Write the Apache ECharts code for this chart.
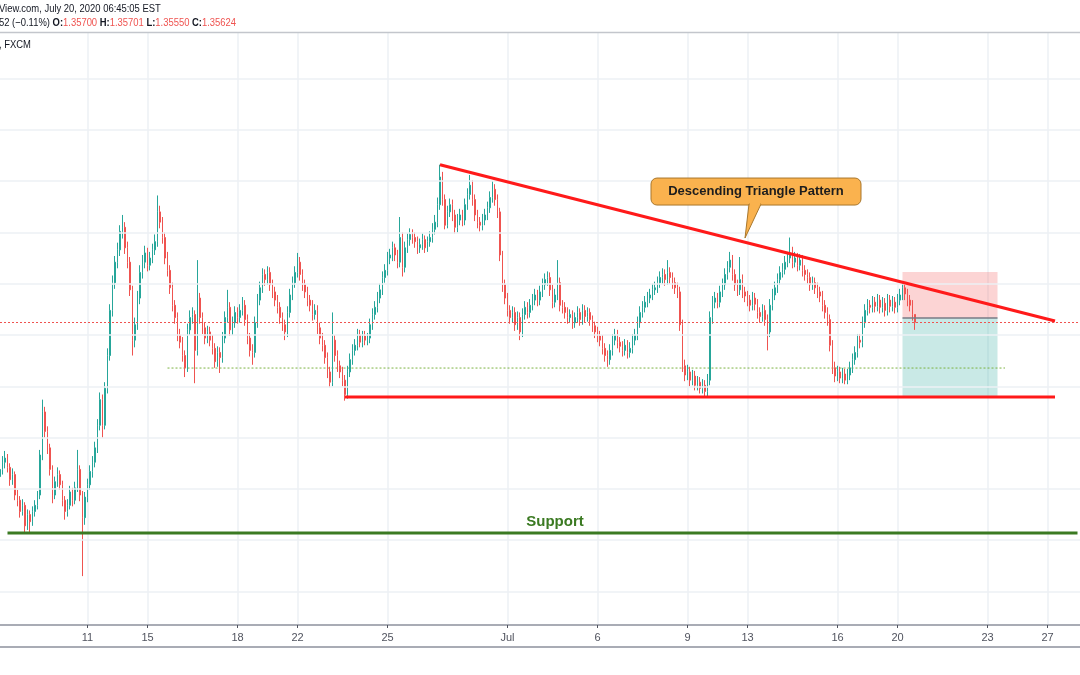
<!DOCTYPE html>
<html><head><meta charset="utf-8">
<script src="https://cdn.jsdelivr.net/npm/echarts@6/dist/echarts.min.js"></script>
<style>html,body{margin:0;padding:0;background:#fff}#c{width:1080px;height:675px}</style>
</head><body><div id="c"></div>
<script>
// ---- 2-hour USD/CAD candles (FXCM), Jun 8 – Jul 20, 2020 ----
const opens=[1.3412,1.3419,1.3426,1.3430,1.3421,1.3409,1.3414,1.3394,1.3389,1.3378,
1.3384,1.3364,1.3375,1.3368,1.3378,1.3384,1.3394,1.3433,1.3475,1.3456,
1.3440,1.3419,1.3394,1.3407,1.3414,1.3404,1.3389,1.3378,1.3384,1.3397,
1.3389,1.3401,1.3419,1.3394,1.3372,1.3392,1.3404,1.3417,1.3426,1.3440,
1.3462,1.3487,1.3462,1.3498,1.3530,1.3574,1.3601,1.3621,1.3633,1.3651,
1.3655,1.3635,1.3621,1.3594,1.3545,1.3560,1.3586,1.3611,1.3621,1.3630,
1.3618,1.3625,1.3633,1.3641,1.3670,1.3660,1.3645,1.3625,1.3613,1.3596,
1.3579,1.3567,1.3550,1.3543,1.3530,1.3518,1.3555,1.3567,1.3570,1.3535,
1.3586,1.3567,1.3557,1.3547,1.3553,1.3545,1.3537,1.3524,1.3533,1.3528,
1.3547,1.3567,1.3577,1.3555,1.3562,1.3572,1.3567,1.3574,1.3579,1.3565,
1.3547,1.3535,1.3533,1.3562,1.3584,1.3596,1.3609,1.3604,1.3611,1.3599,
1.3592,1.3584,1.3577,1.3567,1.3560,1.3553,1.3572,1.3589,1.3601,1.3611,
1.3621,1.3609,1.3599,1.3592,1.3584,1.3579,1.3570,1.3574,1.3557,1.3547,
1.3540,1.3528,1.3514,1.3504,1.3545,1.3530,1.3520,1.3514,1.3506,1.3492,
1.3514,1.3526,1.3535,1.3540,1.3550,1.3543,1.3549,1.3545,1.3547,1.3560,
1.3570,1.3577,1.3586,1.3594,1.3606,1.3613,1.3625,1.3628,1.3635,1.3628,
1.3621,1.3645,1.3616,1.3635,1.3643,1.3648,1.3645,1.3641,1.3635,1.3638,
1.3643,1.3635,1.3641,1.3645,1.3653,1.3660,1.3677,1.3704,1.3682,1.3657,
1.3670,1.3677,1.3667,1.3655,1.3662,1.3667,1.3662,1.3677,1.3687,1.3696,
1.3682,1.3667,1.3660,1.3657,1.3662,1.3667,1.3674,1.3684,1.3692,1.3682,
1.3670,1.3628,1.3599,1.3586,1.3574,1.3567,1.3572,1.3560,1.3567,1.3553,
1.3570,1.3577,1.3572,1.3579,1.3584,1.3589,1.3584,1.3592,1.3599,1.3604,
1.3606,1.3594,1.3582,1.3589,1.3601,1.3579,1.3577,1.3572,1.3567,1.3570,
1.3562,1.3567,1.3572,1.3565,1.3574,1.3568,1.3572,1.3565,1.3559,1.3553,
1.3549,1.3545,1.3537,1.3530,1.3526,1.3535,1.3545,1.3550,1.3543,1.3539,
1.3535,1.3540,1.3533,1.3537,1.3545,1.3550,1.3562,1.3572,1.3577,1.3582,
1.3586,1.3589,1.3594,1.3596,1.3601,1.3606,1.3609,1.3604,1.3611,1.3606,
1.3601,1.3596,1.3592,1.3560,1.3520,1.3511,1.3514,1.3506,1.3510,1.3501,
1.3504,1.3498,1.3501,1.3495,1.3506,1.3567,1.3582,1.3586,1.3582,1.3592,
1.3599,1.3609,1.3616,1.3623,1.3609,1.3599,1.3594,1.3604,1.3592,1.3588,
1.3584,1.3579,1.3586,1.3580,1.3572,1.3568,1.3574,1.3565,1.3553,1.3579,
1.3589,1.3596,1.3604,1.3611,1.3614,1.3621,1.3625,1.3630,1.3621,1.3625,
1.3618,1.3623,1.3613,1.3609,1.3606,1.3599,1.3601,1.3596,1.3592,1.3588,
1.3579,1.3572,1.3565,1.3540,1.3518,1.3510,1.3514,1.3508,1.3512,1.3506,
1.3511,1.3518,1.3526,1.3533,1.3545,1.3543,1.3562,1.3574,1.3579,1.3577,
1.3582,1.3578,1.3584,1.3577,1.3581,1.3574,1.3584,1.3578,1.3582,1.3577,
1.3584,1.3589,1.3596,1.3590,1.3584,1.3579,1.3570];
const highs=[1.3425,1.3432,1.3437,1.3434,1.3425,1.3420,1.3417,1.3399,1.3393,1.3390,
1.3387,1.3380,1.3379,1.3383,1.3389,1.3398,1.3438,1.3487,1.3480,1.3461,
1.3444,1.3423,1.3412,1.3421,1.3418,1.3408,1.3393,1.3390,1.3403,1.3401,
1.3407,1.3438,1.3423,1.3398,1.3397,1.3410,1.3423,1.3432,1.3446,1.3468,
1.3494,1.3492,1.3504,1.3537,1.3580,1.3608,1.3627,1.3640,1.3657,1.3667,
1.3660,1.3641,1.3626,1.3598,1.3567,1.3593,1.3618,1.3628,1.3637,1.3635,
1.3631,1.3639,1.3648,1.3686,1.3676,1.3665,1.3650,1.3631,1.3618,1.3601,
1.3584,1.3572,1.3556,1.3548,1.3535,1.3561,1.3574,1.3577,1.3574,1.3623,
1.3591,1.3572,1.3562,1.3559,1.3558,1.3550,1.3542,1.3539,1.3538,1.3553,
1.3573,1.3594,1.3582,1.3568,1.3578,1.3577,1.3580,1.3587,1.3584,1.3570,
1.3552,1.3541,1.3568,1.3590,1.3602,1.3615,1.3614,1.3617,1.3616,1.3604,
1.3597,1.3589,1.3582,1.3572,1.3565,1.3578,1.3595,1.3607,1.3617,1.3630,
1.3626,1.3614,1.3604,1.3597,1.3589,1.3584,1.3580,1.3579,1.3562,1.3552,
1.3545,1.3533,1.3519,1.3572,1.3550,1.3535,1.3525,1.3519,1.3511,1.3520,
1.3532,1.3541,1.3546,1.3556,1.3555,1.3554,1.3554,1.3552,1.3566,1.3576,
1.3583,1.3592,1.3600,1.3612,1.3619,1.3631,1.3634,1.3641,1.3639,1.3633,
1.3665,1.3650,1.3641,1.3649,1.3654,1.3653,1.3650,1.3646,1.3644,1.3649,
1.3647,1.3646,1.3651,1.3659,1.3667,1.3684,1.3716,1.3709,1.3687,1.3676,
1.3683,1.3682,1.3672,1.3668,1.3673,1.3672,1.3683,1.3693,1.3706,1.3701,
1.3687,1.3672,1.3665,1.3668,1.3673,1.3680,1.3690,1.3700,1.3697,1.3687,
1.3674,1.3632,1.3604,1.3591,1.3579,1.3578,1.3577,1.3573,1.3572,1.3576,
1.3583,1.3582,1.3585,1.3590,1.3595,1.3594,1.3598,1.3605,1.3610,1.3612,
1.3611,1.3599,1.3595,1.3623,1.3606,1.3584,1.3582,1.3577,1.3575,1.3574,
1.3572,1.3578,1.3576,1.3580,1.3579,1.3577,1.3576,1.3569,1.3563,1.3558,
1.3554,1.3550,1.3542,1.3535,1.3541,1.3551,1.3556,1.3555,1.3548,1.3544,
1.3546,1.3545,1.3543,1.3551,1.3556,1.3568,1.3578,1.3583,1.3588,1.3592,
1.3595,1.3600,1.3602,1.3607,1.3612,1.3615,1.3614,1.3623,1.3616,1.3611,
1.3606,1.3601,1.3597,1.3565,1.3526,1.3521,1.3519,1.3516,1.3515,1.3510,
1.3509,1.3507,1.3506,1.3512,1.3573,1.3588,1.3592,1.3591,1.3598,1.3605,
1.3615,1.3622,1.3631,1.3628,1.3614,1.3604,1.3626,1.3609,1.3597,1.3593,
1.3589,1.3592,1.3591,1.3585,1.3577,1.3580,1.3579,1.3570,1.3585,1.3595,
1.3602,1.3610,1.3617,1.3620,1.3627,1.3631,1.3645,1.3636,1.3631,1.3630,
1.3629,1.3628,1.3618,1.3614,1.3611,1.3607,1.3606,1.3601,1.3597,1.3593,
1.3584,1.3577,1.3570,1.3545,1.3524,1.3520,1.3519,1.3518,1.3517,1.3517,
1.3524,1.3532,1.3539,1.3551,1.3551,1.3568,1.3580,1.3585,1.3584,1.3588,
1.3587,1.3590,1.3589,1.3587,1.3586,1.3590,1.3589,1.3588,1.3587,1.3590,
1.3595,1.3601,1.3600,1.3595,1.3589,1.3584,1.35701];
const lows=[1.3405,1.3414,1.3420,1.3416,1.3403,1.3404,1.3389,1.3383,1.3372,1.3374,
1.3357,1.3360,1.3357,1.3364,1.3373,1.3380,1.3390,1.3428,1.3450,1.3434,
1.3413,1.3386,1.3390,1.3402,1.3399,1.3383,1.3370,1.3373,1.3380,1.3383,
1.3385,1.3397,1.3388,1.3315,1.3365,1.3387,1.3399,1.3411,1.3421,1.3435,
1.3457,1.3450,1.3458,1.3493,1.3525,1.3568,1.3595,1.3615,1.3627,1.3644,
1.3629,1.3615,1.3588,1.3530,1.3538,1.3555,1.3580,1.3605,1.3615,1.3612,
1.3613,1.3620,1.3628,1.3636,1.3654,1.3639,1.3619,1.3607,1.3590,1.3573,
1.3561,1.3544,1.3537,1.3524,1.3509,1.3514,1.3550,1.3561,1.3503,1.3530,
1.3561,1.3551,1.3541,1.3542,1.3539,1.3531,1.3518,1.3519,1.3513,1.3523,
1.3542,1.3562,1.3549,1.3550,1.3557,1.3561,1.3562,1.3569,1.3559,1.3541,
1.3529,1.3521,1.3528,1.3557,1.3579,1.3591,1.3598,1.3599,1.3593,1.3586,
1.3578,1.3571,1.3561,1.3554,1.3545,1.3548,1.3567,1.3584,1.3596,1.3606,
1.3603,1.3593,1.3586,1.3578,1.3573,1.3564,1.3565,1.3551,1.3541,1.3534,
1.3522,1.3508,1.3499,1.3500,1.3524,1.3514,1.3508,1.3500,1.3486,1.3488,
1.3509,1.3521,1.3530,1.3535,1.3538,1.3538,1.3540,1.3540,1.3542,1.3555,
1.3565,1.3572,1.3581,1.3589,1.3601,1.3608,1.3619,1.3622,1.3622,1.3615,
1.3616,1.3607,1.3611,1.3630,1.3637,1.3639,1.3635,1.3629,1.3630,1.3633,
1.3630,1.3631,1.3636,1.3640,1.3648,1.3655,1.3672,1.3676,1.3653,1.3654,
1.3665,1.3661,1.3649,1.3650,1.3657,1.3656,1.3657,1.3672,1.3682,1.3676,
1.3661,1.3654,1.3651,1.3652,1.3657,1.3662,1.3669,1.3679,1.3676,1.3664,
1.3622,1.3592,1.3580,1.3568,1.3561,1.3562,1.3554,1.3555,1.3545,1.3548,
1.3565,1.3566,1.3567,1.3574,1.3579,1.3578,1.3579,1.3587,1.3594,1.3598,
1.3588,1.3576,1.3577,1.3584,1.3573,1.3571,1.3566,1.3561,1.3562,1.3556,
1.3557,1.3562,1.3559,1.3560,1.3562,1.3563,1.3559,1.3553,1.3547,1.3543,
1.3539,1.3531,1.3524,1.3519,1.3521,1.3530,1.3540,1.3537,1.3533,1.3529,
1.3530,1.3527,1.3528,1.3532,1.3540,1.3545,1.3557,1.3567,1.3572,1.3577,
1.3581,1.3584,1.3589,1.3591,1.3596,1.3600,1.3598,1.3599,1.3600,1.3595,
1.3590,1.3586,1.3554,1.3514,1.3505,1.3506,1.3500,1.3501,1.3496,1.3496,
1.3493,1.3493,1.3489,1.3490,1.3501,1.3561,1.3576,1.3576,1.3577,1.3587,
1.3594,1.3604,1.3611,1.3603,1.3593,1.3588,1.3589,1.3586,1.3582,1.3578,
1.3573,1.3574,1.3574,1.3566,1.3562,1.3563,1.3559,1.3535,1.3548,1.3574,
1.3584,1.3591,1.3599,1.3606,1.3609,1.3616,1.3620,1.3615,1.3616,1.3612,
1.3613,1.3607,1.3603,1.3600,1.3593,1.3594,1.3590,1.3586,1.3582,1.3573,
1.3566,1.3559,1.3534,1.3512,1.3504,1.3505,1.3503,1.3503,1.3502,1.3502,
1.3506,1.3513,1.3521,1.3528,1.3537,1.3538,1.3557,1.3569,1.3571,1.3572,
1.3572,1.3573,1.3571,1.3572,1.3568,1.3569,1.3572,1.3573,1.3571,1.3572,
1.3579,1.3584,1.3584,1.3578,1.3573,1.3564,1.3555];
const closes=[1.3419,1.3426,1.3430,1.3421,1.3409,1.3414,1.3394,1.3389,1.3378,1.3384,
1.3364,1.3375,1.3368,1.3378,1.3384,1.3394,1.3433,1.3475,1.3456,1.3440,
1.3419,1.3394,1.3407,1.3414,1.3404,1.3389,1.3378,1.3384,1.3397,1.3389,
1.3401,1.3419,1.3394,1.3372,1.3392,1.3404,1.3417,1.3426,1.3440,1.3462,
1.3487,1.3462,1.3498,1.3530,1.3574,1.3601,1.3621,1.3633,1.3651,1.3655,
1.3635,1.3621,1.3594,1.3545,1.3560,1.3586,1.3611,1.3621,1.3630,1.3618,
1.3625,1.3633,1.3641,1.3670,1.3660,1.3645,1.3625,1.3613,1.3596,1.3579,
1.3567,1.3550,1.3543,1.3530,1.3518,1.3555,1.3567,1.3570,1.3535,1.3586,
1.3567,1.3557,1.3547,1.3553,1.3545,1.3537,1.3524,1.3533,1.3528,1.3547,
1.3567,1.3577,1.3555,1.3562,1.3572,1.3567,1.3574,1.3579,1.3565,1.3547,
1.3535,1.3533,1.3562,1.3584,1.3596,1.3609,1.3604,1.3611,1.3599,1.3592,
1.3584,1.3577,1.3567,1.3560,1.3553,1.3572,1.3589,1.3601,1.3611,1.3621,
1.3609,1.3599,1.3592,1.3584,1.3579,1.3570,1.3574,1.3557,1.3547,1.3540,
1.3528,1.3514,1.3504,1.3545,1.3530,1.3520,1.3514,1.3506,1.3492,1.3514,
1.3526,1.3535,1.3540,1.3550,1.3543,1.3549,1.3545,1.3547,1.3560,1.3570,
1.3577,1.3586,1.3594,1.3606,1.3613,1.3625,1.3628,1.3635,1.3628,1.3621,
1.3645,1.3616,1.3635,1.3643,1.3648,1.3645,1.3641,1.3635,1.3638,1.3643,
1.3635,1.3641,1.3645,1.3653,1.3660,1.3677,1.3704,1.3682,1.3657,1.3670,
1.3677,1.3667,1.3655,1.3662,1.3667,1.3662,1.3677,1.3687,1.3696,1.3682,
1.3667,1.3660,1.3657,1.3662,1.3667,1.3674,1.3684,1.3692,1.3682,1.3670,
1.3628,1.3599,1.3586,1.3574,1.3567,1.3572,1.3560,1.3567,1.3553,1.3570,
1.3577,1.3572,1.3579,1.3584,1.3589,1.3584,1.3592,1.3599,1.3604,1.3606,
1.3594,1.3582,1.3589,1.3601,1.3579,1.3577,1.3572,1.3567,1.3570,1.3562,
1.3567,1.3572,1.3565,1.3574,1.3568,1.3572,1.3565,1.3559,1.3553,1.3549,
1.3545,1.3537,1.3530,1.3526,1.3535,1.3545,1.3550,1.3543,1.3539,1.3535,
1.3540,1.3533,1.3537,1.3545,1.3550,1.3562,1.3572,1.3577,1.3582,1.3586,
1.3589,1.3594,1.3596,1.3601,1.3606,1.3609,1.3604,1.3611,1.3606,1.3601,
1.3596,1.3592,1.3560,1.3520,1.3511,1.3514,1.3506,1.3510,1.3501,1.3504,
1.3498,1.3501,1.3495,1.3506,1.3567,1.3582,1.3586,1.3582,1.3592,1.3599,
1.3609,1.3616,1.3623,1.3609,1.3599,1.3594,1.3604,1.3592,1.3588,1.3584,
1.3579,1.3586,1.3580,1.3572,1.3568,1.3574,1.3565,1.3553,1.3579,1.3589,
1.3596,1.3604,1.3611,1.3614,1.3621,1.3625,1.3630,1.3621,1.3625,1.3618,
1.3623,1.3613,1.3609,1.3606,1.3599,1.3601,1.3596,1.3592,1.3588,1.3579,
1.3572,1.3565,1.3540,1.3518,1.3510,1.3514,1.3508,1.3512,1.3506,1.3511,
1.3518,1.3526,1.3533,1.3545,1.3543,1.3562,1.3574,1.3579,1.3577,1.3582,
1.3578,1.3584,1.3577,1.3581,1.3574,1.3584,1.3578,1.3582,1.3577,1.3584,
1.3589,1.3596,1.3590,1.3584,1.3579,1.3570,1.35624];

// x-axis tick labels (day starts)
const tickDays=['2020-06-11','2020-06-15','2020-06-18','2020-06-22','2020-06-25','2020-07-01','2020-07-06','2020-07-09','2020-07-13','2020-07-16','2020-07-20','2020-07-23','2020-07-27'];
const tickLabels=['11','15','18','22','25','Jul','6','9','13','16','20','23','27'];
// horizontal price grid levels
const gridPrices=[1.330,1.335,1.340,1.345,1.350,1.355,1.360,1.365,1.370,1.375,1.380];
// drawings (bar index, price)
const lastPrice=1.35624;
const triTop=[[176,1.3716],[422,1.35636]];
const triBottom=[[138,1.34896],[422,1.34896]];
const supportLine=[[3,1.3357],[431,1.3357]];
const greenLevel=[[67,1.35178],[402,1.35178]];
const posBars=[361,399];
const posStop=1.36114, posEntry=1.35666, posTarget=1.34896;
const calloutTip=[298,1.36445];
const supportLabelAt=[222,1.3357];

// categories: 2-hour bars, forex week Sun 18:00 – Fri 16:00
const categories=[];
let t=Date.UTC(2020,5,8,2);
while(categories.length<433){
  const d=new Date(t);
  categories.push(d.toISOString().slice(0,10)+' '+String(d.getUTCHours()).padStart(2,'0')+':00');
  t+=7200000;
  const n=new Date(t);
  if(n.getUTCDay()===5&&n.getUTCHours()>=18) t+=48*3600000;
}
const tickIndex={};
tickDays.forEach((d,i)=>{const idx=categories.indexOf(d+' 00:00'); if(idx>=0) tickIndex[idx]=tickLabels[i];});
const isTick=(i)=>tickIndex[i]!==undefined;

const candleData=closes.map((c,i)=>[opens[i],closes[i],lows[i],highs[i]]);
const gridColor='#edf1f5';

const chart=echarts.init(document.getElementById('c'),null,{renderer:'canvas'});
chart.setOption({
  animation:false,
  backgroundColor:'#ffffff',
  grid:{left:0,right:0,top:33,bottom:50},
  xAxis:{type:'category',data:categories,boundaryGap:false,
    axisLine:{lineStyle:{color:'#a9acb5',width:2}},
    axisTick:{show:true,interval:isTick,length:3,lineStyle:{color:'#50535e'}},
    axisLabel:{interval:isTick,formatter:(v,i)=>tickIndex[i]||'',color:'#50535e',fontSize:11,margin:7,fontFamily:'Liberation Sans Narrow, Liberation Sans, sans-serif'},
    splitLine:{show:true,interval:isTick,lineStyle:{color:gridColor,width:1.5}}},
  yAxis:{type:'value',min:1.326735,max:1.384435,show:false,scale:true},
  series:[
    {type:'line',data:[],z:0,silent:true,
      markLine:{silent:true,symbol:'none',precision:6,label:{show:false},animation:false,
        lineStyle:{color:gridColor,width:1.5,type:'solid'},
        data:gridPrices.map(v=>({yAxis:v}))}},
    {type:'line',data:[],z:1,silent:true,
      markArea:{silent:true,label:{show:false},
        data:[[{xAxis:posBars[0],yAxis:posStop,itemStyle:{color:'rgba(245,90,90,0.26)'}},{xAxis:posBars[1],yAxis:posEntry}],
              [{xAxis:posBars[0],yAxis:posEntry,itemStyle:{color:'rgba(38,166,154,0.25)'}},{xAxis:posBars[1],yAxis:posTarget}]]}},
    {type:'line',data:[],z:2,silent:true,
      markLine:{silent:true,symbol:'none',precision:6,label:{show:false},
        lineStyle:{color:'#ef5350',width:1,type:[2,2]},data:[{yAxis:lastPrice}]}},
    {type:'line',data:greenLevel,z:2,symbol:'none',silent:true,lineStyle:{color:'#7cb342',width:1,type:[2,2]}},
    {type:'candlestick',z:3,data:candleData,barWidth:1.4,
      itemStyle:{color:'#26a69a',color0:'#ef5350',borderColor:'#26a69a',borderColor0:'#ef5350',borderWidth:1}},
    {type:'line',data:[[posBars[0],posEntry],[posBars[1],posEntry]],z:4,symbol:'none',silent:true,lineStyle:{color:'#787b86',width:1.5}},
    {type:'line',data:triTop,z:5,symbol:'none',silent:true,lineStyle:{color:'#ff1a1a',width:3}},
    {type:'line',data:triBottom,z:5,symbol:'none',silent:true,lineStyle:{color:'#ff1a1a',width:3}},
    {type:'line',data:supportLine,z:5,symbol:'none',silent:true,lineStyle:{color:'#3b7a22',width:3}}
  ]
});

const tip=chart.convertToPixel({gridIndex:0},calloutTip);
const sup=chart.convertToPixel({gridIndex:0},supportLabelAt);
const bx=tip[0]-94, by=tip[1]-60, bw=210, bh=27;
chart.setOption({graphic:[
  {type:'text',x:-1,y:3,scaleX:0.82,style:{text:'View.com, July 20, 2020 06:45:05 EST',fill:'#131722',font:'11.5px "Liberation Sans", sans-serif'}},
  {type:'text',x:-1,y:17,scaleX:0.82,style:{text:'{d|52 (\u22120.11%)} {b|O:}{r|1.35700} {b|H:}{r|1.35701} {b|L:}{r|1.35550} {b|C:}{r|1.35624}',
    font:'11.5px "Liberation Sans", sans-serif',rich:{d:{fill:'#131722',fontSize:11.5,fontFamily:'Liberation Sans'},b:{fill:'#131722',fontSize:11.5,fontWeight:'bold',fontFamily:'Liberation Sans'},r:{fill:'#ef5350',fontSize:11.5,fontFamily:'Liberation Sans'}}}},
  {type:'line',shape:{x1:0,y1:32.5,x2:1080,y2:32.5},style:{stroke:'#c3c6cc',lineWidth:1.5}},
  {type:'text',x:-1,y:39,scaleX:0.82,style:{text:', FXCM',fill:'#131722',font:'11.5px "Liberation Sans", sans-serif'}},
  {type:'line',shape:{x1:0,y1:647,x2:1080,y2:647},style:{stroke:'#a9acb5',lineWidth:2}},
  {type:'rect',shape:{x:bx,y:by,width:bw,height:bh,r:6},style:{fill:'#fab24e',stroke:'#a9772c',lineWidth:1},z:100},
  {type:'polygon',shape:{points:[[tip[0]+4,by+bh-1],[tip[0],tip[1]],[tip[0]+16,by+bh-1]]},style:{fill:'#fab24e',stroke:'#a9772c',lineWidth:1},z:101},
  {type:'rect',shape:{x:tip[0]+4.8,y:by+bh-3,width:10.4,height:3},style:{fill:'#fab24e'},z:102},
  {type:'text',x:bx+bw/2,y:by+bh/2,z:103,style:{text:'Descending Triangle Pattern',fill:'#1d1d1d',font:'bold 13px "Liberation Sans", sans-serif',textAlign:'center',textVerticalAlign:'middle'}},
  {type:'text',x:sup[0],y:sup[1]-4,z:103,style:{text:'Support',fill:'#3b7a22',font:'bold 15px "Liberation Sans", sans-serif',textAlign:'center',textVerticalAlign:'bottom'}}
]});
</script></body></html>
